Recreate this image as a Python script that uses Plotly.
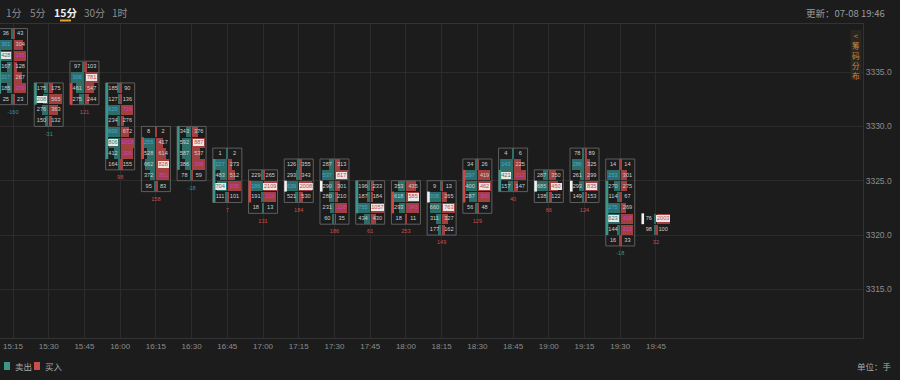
import plotly.graph_objects as go

# ---------------- data ----------------
times = ["15:15", "15:30", "15:45", "16:00", "16:15", "16:30", "16:45", "17:00", "17:15", "17:30",
         "17:45", "18:00", "18:15", "18:30", "18:45", "19:00", "19:15", "19:30", "19:45"]
top_price = [3338, 3333, 3335, 3333, 3329, 3329, 3327, 3325, 3326, 3326,
             3324, 3324, 3324, 3326, 3327, 3325, 3327, 3326, 3321]
sell_vol = [
    [36, 361, 428, 167, 317, 185, 25],
    [175, 208, 276, 150],
    [97, 306, 461, 275],
    [185, 127, 620, 234, 600, 806, 412, 164],
    [8, 255, 528, 662, 372, 95],
    [343, 592, 587, 386, 78],
    [1, 227, 483, 704, 111],
    [229, 186, 191, 18],
    [126, 293, 639, 521],
    [287, 537, 290, 280, 231, 60],
    [196, 187, 755, 434],
    [353, 618, 293, 18],
    [9, 308, 660, 311, 177],
    [34, 297, 400, 287, 56],
    [4, 143, 421, 157],
    [287, 685, 138],
    [78, 286, 261, 293, 149],
    [14, 253, 270, 114, 275, 623, 144, 16],
    [76, 98],
]
buy_vol = [
    [43, 304, 195, 128, 267, 209, 23],
    [175, 565, 363, 132],
    [103, 781, 547, 244],
    [90, 136, 716, 276, 672, 1018, 306, 155],
    [2, 417, 614, 828, 351, 83],
    [376, 887, 537, 308, 59],
    [2, 273, 512, 935, 101],
    [265, 2109, 220, 13],
    [355, 343, 2008, 530],
    [313, 817, 301, 210, 228, 35],
    [233, 184, 1057, 430],
    [435, 585, 345, 11],
    [13, 265, 763, 327, 162],
    [26, 419, 462, 300, 48],
    [6, 225, 313, 147],
    [350, 450, 122],
    [89, 325, 299, 835, 153],
    [14, 301, 275, 67, 269, 418, 213, 33],
    [2003, 100],
]
delta = [-160, -31, 121, 98, 158, -18, 7, 131, 184, 186, 61, 253, 149, 129, 40, 66, 124, -18, 32]
body_low = [3333, 3332, 3332, 3327, 3327, 3326, 3323, 3323, 3324, 3324,
            3322, 3322, 3323, 3323, 3324, 3324, 3324, 3320, 3321]
body_high = [3337, 3334, 3334, 3334, 3329, 3330, 3327, 3325, 3325, 3325,
             3325, 3324, 3324, 3326, 3326, 3325, 3325, 3325, 3322]
body_dir = ["down", "down", "up", "down", "up", "down", "down", "up", "flat", "flat",
            "down", "up", "flat", "up", "down", "flat", "flat", "down", "flat"]
sell_hl = [2, 1, None, 5, None, None, 3, None, None, None, None, None, None, None, 2, None, None, 5, None]
buy_hl = [None, None, 1, None, 3, 1, None, 1, 2, 1, 2, 1, 2, 2, None, 1, 3, None, 0]
sell_imb = [[1, 4], [], [1], [2, 4], [1], [], [1], [1], [2], [1], [2], [], [1], [1], [1], [], [1], [1, 4], []]
buy_imb = [[2, 5], [], [], [2, 5, 6], [4], [3], [3], [2], [], [4], [], [2], [], [3], [2], [], [], [5, 6], []]
closed = [True] * 18 + [False]
tabs = ["1分", "5分", "15分", "30分", "1时"]
y_ticks = [3315, 3320, 3325, 3330, 3335]

# ---------------- style ----------------
BG = "#1c1c1c"
GRID = "#2c2c2c"
TEAL = "#2e6e68"
RED = "#a0403f"
TEAL_TXT = "#3d9489"
RED_TXT = "#c5504c"
BLUE_TXT = "#46a5dc"
MAG_TXT = "#d03cd0"
NUM_TXT = "#cfcfcf"
HL_BG = "#ece7e7"
PXU = 35.72          # px per x unit
HALF = 14.5 / PXU    # half box width
BARMAX = 13.0 / PXU
OFF = 7.2 / PXU
NUMFONT = "Liberation Sans Narrow, Liberation Sans, Arial"

fig = go.Figure()

sb_y, sb_x, sb_b = [], [], []
bb_y, bb_x, bb_b = [], [], []
ib_y, ib_x, ib_b, ib_c = [], [], [], []
hl_y, hl_x, hl_b = [], [], []
tx, ty, tt, tc = [], [], [], []
box_x, box_y = [], []
body = {"down": ([], [], TEAL_TXT), "up": ([], [], "#d0473f"), "flat": ([], [], "#f2f2f2")}
dx, dy, dt, dc = [], [], [], []

for i in range(len(times)):
    c = i
    s = sell_vol[i]
    b = buy_vol[i]
    n = len(s)
    m = max(max(s), max(b))
    for r in range(n):
        p = top_price[i] - r
        yc = p + 0.5
        sb_y.append(yc); sb_x.append(-s[r] / m * BARMAX); sb_b.append(c - 0.015)
        bb_y.append(yc); bb_x.append(b[r] / m * BARMAX); bb_b.append(c + 0.015)
        for side, v, flagged_hl, flagged_imb in (
                (-1, s[r], sell_hl[i] == r, r in sell_imb[i]),
                (1, b[r], buy_hl[i] == r, r in buy_imb[i])):
            xc = c + side * OFF
            w = (len(str(v)) * 2.5 + 3.5) / PXU
            if flagged_hl:
                hl_y.append(yc); hl_x.append(w); hl_b.append(xc - w / 2)
                col = "#2a7a70" if side < 0 else "#bf4545"
            elif flagged_imb:
                ib_y.append(yc); ib_x.append(11.5 / PXU); ib_b.append(xc - 5.75 / PXU)
                ib_c.append(TEAL if side < 0 else RED)
                col = BLUE_TXT if side < 0 else MAG_TXT
            else:
                col = NUM_TXT
            tx.append(xc); ty.append(yc); tt.append(str(v)); tc.append(col)
    lo = top_price[i] - n + 1
    hi = top_price[i] + 1
    if closed[i]:
        box_x += [c - HALF, c + HALF, c + HALF, c - HALF, c - HALF, None]
        box_y += [lo, lo, hi, hi, lo, None]
    bx, by, _ = body[body_dir[i]]
    bx += [c - HALF + 1.3 / PXU, c - HALF + 1.3 / PXU, None]
    by += [body_low[i], body_high[i], None]
    dx.append(c); dy.append(lo - 0.72); dt.append(str(delta[i]))
    dc.append(TEAL_TXT if delta[i] < 0 else RED_TXT)

fig.add_trace(go.Bar(orientation="h", y=sb_y, x=sb_x, base=sb_b, width=0.94,
                     marker=dict(color=TEAL, line=dict(width=0)), hoverinfo="skip"))
fig.add_trace(go.Bar(orientation="h", y=bb_y, x=bb_x, base=bb_b, width=0.94,
                     marker=dict(color=RED, line=dict(width=0)), hoverinfo="skip"))
fig.add_trace(go.Bar(orientation="h", y=ib_y, x=ib_x, base=ib_b, width=0.94,
                     marker=dict(color=ib_c, line=dict(width=0)), hoverinfo="skip"))
fig.add_trace(go.Bar(orientation="h", y=hl_y, x=hl_x, base=hl_b, width=0.66,
                     marker=dict(color=HL_BG, line=dict(width=0)), hoverinfo="skip"))
fig.add_trace(go.Scatter(x=box_x, y=box_y, mode="lines", line=dict(color="#5e5e5e", width=1),
                         hoverinfo="skip"))
for k, (bx, by, col) in body.items():
    fig.add_trace(go.Scatter(x=bx, y=by, mode="lines", line=dict(color=col, width=2.6),
                             hoverinfo="skip"))
fig.add_trace(go.Scatter(x=tx, y=ty, mode="text", text=tt,
                         textfont=dict(size=5.6, color=tc, family=NUMFONT), hoverinfo="skip"))
fig.add_trace(go.Scatter(x=dx, y=dy, mode="text", text=dt,
                         textfont=dict(size=5.6, color=dc, family=NUMFONT), hoverinfo="skip"))

# ---------------- layout ----------------
W_PLOT = 863.0
T, B = 24.0, 338.0


def px(xp):
    return xp / W_PLOT


def py(yp):
    return (B - yp) / (B - T)


ann = []
shapes = []
tab_x = [14, 38, 65, 94.5, 120]
for name, xc in zip(tabs, tab_x):
    sel = name == "15分"
    ann.append(dict(xref="paper", yref="paper", x=px(xc), y=py(12.5), text=("<b>%s</b>" % name) if sel else name,
                    showarrow=False, xanchor="center", yanchor="middle",
                    font=dict(size=10.5 if sel else 10, color="#f0f0f0" if sel else "#8e8e8e",
                              family="Noto Sans CJK SC")))
shapes.append(dict(type="line", xref="paper", yref="paper", x0=px(60), x1=px(71), y0=py(20.5), y1=py(20.5),
                   line=dict(color="#e2a23c", width=2)))
ann.append(dict(xref="paper", yref="paper", x=px(887), y=py(12.5), text="更新：07-08 19:46", showarrow=False,
                xanchor="right", yanchor="middle", font=dict(size=9.5, color="#9a9a9a", family="Noto Sans CJK SC")))
shapes.append(dict(type="rect", xref="paper", yref="paper", x0=px(850.5), x1=px(861.5), y0=py(80), y1=py(30),
                   fillcolor="#2a2622", line=dict(width=0)))
ann.append(dict(xref="paper", yref="paper", x=px(856), y=py(55.5), text="&lt;<br>筹<br>码<br>分<br>布",
                showarrow=False, xanchor="center", yanchor="middle", borderpad=0, align="center",
                font=dict(size=7.6, color="#c98a3c", family="Noto Sans CJK SC")))
# legend
shapes.append(dict(type="rect", xref="paper", yref="paper", x0=px(4), x1=px(10), y0=py(370), y1=py(362),
                   fillcolor=TEAL_TXT, line=dict(width=0)))
shapes.append(dict(type="rect", xref="paper", yref="paper", x0=px(34), x1=px(40), y0=py(370), y1=py(362),
                   fillcolor=RED_TXT, line=dict(width=0)))
for txt, xl in (("卖出", 12.5), ("买入", 42.5)):
    ann.append(dict(xref="paper", yref="paper", x=px(xl), y=py(366), text=txt, showarrow=False,
                    xanchor="left", yanchor="middle",
                    font=dict(size=8.5, color="#a8a8a8", family="Noto Sans CJK SC")))
ann.append(dict(xref="paper", yref="paper", x=px(894), y=py(366), text="单位：手", showarrow=False,
                xanchor="right", yanchor="middle", font=dict(size=8.5, color="#a8a8a8", family="Noto Sans CJK SC")))

fig.update_layout(
    width=900, height=380,
    margin=dict(l=0, r=37, t=24, b=42),
    paper_bgcolor=BG, plot_bgcolor=BG,
    showlegend=False, barmode="overlay", bargap=0,
    annotations=ann, shapes=shapes,
    xaxis=dict(range=[-13 / PXU, (W_PLOT - 13) / PXU], tickvals=list(range(len(times))), ticktext=times,
               showgrid=True, gridcolor=GRID, gridwidth=1, zeroline=False,
               showline=True, linecolor="#333333", mirror=True, ticks="",
               tickfont=dict(size=8, color="#8c8c8c", family="Liberation Sans Narrow, Liberation Sans, Arial")),
    yaxis=dict(range=[3310.53, 3339.42], side="right", tickvals=y_ticks,
               ticktext=["%.1f" % v for v in y_ticks],
               showgrid=True, gridcolor=GRID, gridwidth=1, zeroline=False,
               showline=True, linecolor="#333333", ticks="",
               tickfont=dict(size=8.5, color="#8c8c8c", family="Liberation Sans, Arial")),
)

fig.write_html("out.html", config={"displayModeBar": False},
               post_script="document.body.style.margin='0';document.body.style.background='%s';" % BG)
